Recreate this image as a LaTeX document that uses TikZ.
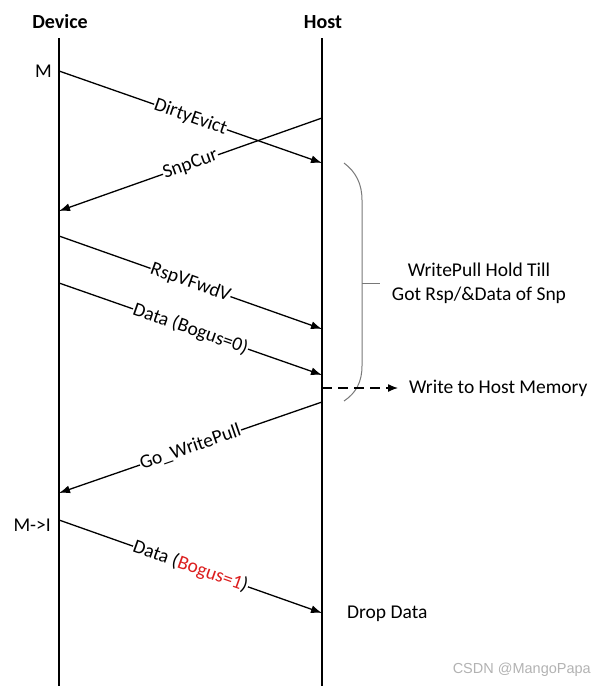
\documentclass[tikz,border=0pt]{standalone}
\usepackage{fontspec}
\setmainfont{Carlito}
\newfontfamily\markfont{Liberation Sans}
\usepackage{tikz}
\usetikzlibrary{arrows.meta, positioning}
\usepackage{xcolor}
\definecolor{bogusred}{RGB}{220,30,30}
\definecolor{bracegray}{RGB}{120,120,120}

\begin{document}
\begin{tikzpicture}[
                x=1pt, y=-1pt,
                line join=bevel,
                font=\fontsize{19.5}{23}\selectfont,
                lifeline/.style={line width=1.3pt},
                msgarrow/.style={-{Latex[length=11pt,width=8pt]}, line width=1.3pt},
                msglabel/.style={sloped, fill=white, inner sep=0.5pt},
                notetext/.style={anchor=west, inner sep=0pt}
                ]
                \useasboundingbox (0,0) rectangle (605,688);

                %% Lifelines
                \node[font=\fontsize{20}{24}\selectfont\bfseries] (device) at (60,22) {Device};
                \node[font=\fontsize{20}{24}\selectfont\bfseries] (host) at (323,22) {Host};
                \coordinate (devtop) at (59,38);
                \coordinate (devbot) at (59,686);
                \coordinate (hosttop) at (322,38);
                \coordinate (hostbot) at (322,686);
                \draw[lifeline] (devtop) -- (devbot);
                \draw[lifeline] (hosttop) -- (hostbot);

                        % Message end points
                        \foreach \n/\y in {a/71, b/211, c/236, d/283, e/493, f/520} {
                            \coordinate (dev\n) at (59,\y);
                        }
                        \foreach \n/\y in {a/163, b/118, c/329, d/375, e/402, f/613, w/388} {
                            \coordinate (host\n) at (322,\y);
                        }

\draw[msgarrow] (deva) -- node[msglabel] (dirtyevict) {DirtyEvict} (hosta);
\draw[msgarrow] (hostb) -- node[msglabel] (snpcur) {SnpCur} (devb);
\draw[msgarrow] (devc) -- node[msglabel] (rspvfwdv) {RspVFwdV} (hostc);
\draw[msgarrow] (devd) -- node[msglabel] (data0) {Data (Bogus=0)} (hostd);
\draw[msgarrow] (hoste) -- node[msglabel] (gowp) {Go\_WritePull} (deve);
\draw[msgarrow] (devf) -- node[msglabel] (data1) {Data (\textcolor{bogusred}{Bogus=1})} (hostf);

                %% States
                \node[anchor=east, inner sep=0pt] (stm) at (52,71) {M};
                \node[anchor=east, inner sep=0pt] (stmi) at (51,525) {M->I};

                %% Brace and notes
                \draw[bracegray, line width=1pt] (344,163) .. controls (356,172) and (362,184) .. (362,200)
                    -- (362,366) .. controls (362,382) and (356,393) .. (344,401);
                \draw[bracegray, line width=1pt] (362,283) -- (380,283);
                \node[align=center, inner sep=0pt] (holdnote) at (479,283) {WritePull Hold Till\\[1pt]Got Rsp/\&Data of Snp};

                \coordinate (wmend) at (398,388);
                \draw[-{Latex[length=10pt,width=8pt]}, line width=1.3pt, dash pattern=on 10pt off 6pt] (hostw) -- (wmend);
                \node[notetext] (writemem) at (409,388) {Write to Host Memory};

                \node[notetext] (dropdata) at (347,614) {Drop Data};

                \node[anchor=east, inner sep=0pt, text=gray!60, font=\fontsize{14.5}{17}\markfont] (mark) at (591,670) {CSDN @MangoPapa};
                \end{tikzpicture}
\end{document}
